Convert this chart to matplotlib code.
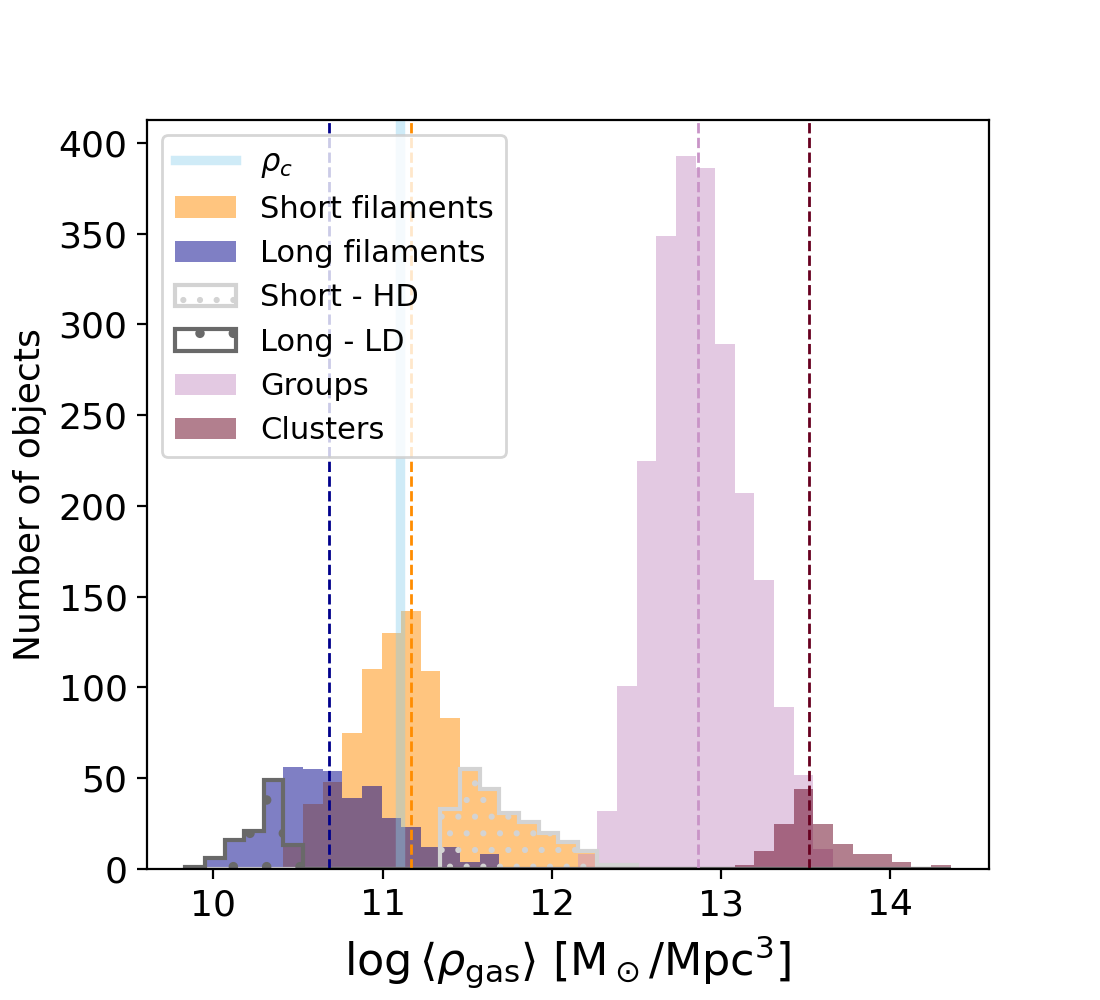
import numpy as np
import matplotlib
matplotlib.use("Agg")
import matplotlib.pyplot as plt

# shared binning of log gas density (all samples use the same 39 bins)
rho_min = 9.833
rho_max = 14.362
n_bins = 39

# counts per bin
short_fil = [0, 0, 0, 1, 1, 13, 36, 48, 75, 110, 130, 142, 109, 83, 55, 44, 31, 26, 20,
             15, 10, 2, 2, 0, 0, 0, 0, 0, 0, 0, 0, 0, 0, 0, 0, 0, 0, 0, 0]
long_fil = [1, 6, 16, 21, 49, 56, 55, 54, 39, 46, 28, 23, 12, 12, 4, 8, 0, 0, 0,
            0, 0, 0, 0, 0, 0, 0, 0, 0, 0, 0, 0, 0, 0, 0, 0, 0, 0, 0, 0]
short_hd = [0, 0, 0, 0, 0, 0, 0, 0, 0, 0, 0, 0, 0, 33, 55, 44, 31, 26, 20,
            15, 10, 2, 2, 0, 0, 0, 0, 0, 0, 0, 0, 0, 0, 0, 0, 0, 0, 0, 0]
long_ld = [1, 6, 16, 21, 49, 13, 0, 0, 0, 0, 0, 0, 0, 0, 0, 0, 0, 0, 0,
           0, 0, 0, 0, 0, 0, 0, 0, 0, 0, 0, 0, 0, 0, 0, 0, 0, 0, 0, 0]
groups = [0, 0, 0, 0, 0, 0, 0, 0, 0, 0, 0, 0, 0, 0, 0, 0, 0, 0, 0,
          0, 8, 32, 101, 225, 349, 393, 386, 289, 207, 159, 89, 52, 11, 1, 0, 0, 0, 0, 0]
clusters = [0, 0, 0, 0, 0, 0, 0, 0, 0, 0, 0, 0, 0, 0, 0, 0, 0, 0, 0,
            0, 0, 0, 0, 0, 0, 0, 0, 0, 2, 10, 25, 44, 25, 14, 8, 8, 4, 0, 2]

# critical density and sample means (log)
rho_c = 11.102
mean_short = 11.168
mean_long = 10.681
mean_groups = 12.867
mean_clusters = 13.522

edges = np.linspace(rho_min, rho_max, n_bins + 1)
centers = 0.5 * (edges[1:] + edges[:-1])

fig = plt.figure(figsize=(5.5, 5), dpi=200)
ax = fig.add_axes([147 / 1100, 131 / 1000, 842 / 1100, 749 / 1000])

ax.axvline(rho_c, color='skyblue', alpha=0.4, lw=3.4, label=r'$\rho_c$')
ax.hist(centers, bins=edges, weights=short_fil, histtype='stepfilled',
        color='darkorange', alpha=0.5, label='Short filaments')
ax.hist(centers, bins=edges, weights=long_fil, histtype='stepfilled',
        color='darkblue', alpha=0.5, label='Long filaments')
ax.hist(centers, bins=edges, weights=short_hd, histtype='step',
        color='lightgrey', lw=1.5, hatch='..', label='Short - HD')
ax.hist(centers, bins=edges, weights=long_ld, histtype='step',
        color='dimgrey', lw=1.5, hatch='.', label='Long - LD')
ax.hist(centers, bins=edges, weights=groups, histtype='stepfilled',
        color='#c994c7', alpha=0.5, label='Groups')
ax.hist(centers, bins=edges, weights=clusters, histtype='stepfilled',
        color='#67001f', alpha=0.5, label='Clusters')

ax.axvline(mean_short, color='darkorange', ls='--', lw=1)
ax.axvline(mean_long, color='darkblue', ls='--', lw=1)
ax.axvline(mean_groups, color='#c994c7', ls='--', lw=1)
ax.axvline(mean_clusters, color='#67001f', ls='--', lw=1)

ax.tick_params(labelsize=13)
ax.set_xlabel(r'$\log\langle\rho_{\rm gas}\rangle$ [M$_\odot$/Mpc$^3$]', fontsize=16)
ax.set_ylabel('Number of objects', fontsize=13)
ax.legend(loc='upper left', fontsize=11)

fig.savefig('out.png', dpi=200)
